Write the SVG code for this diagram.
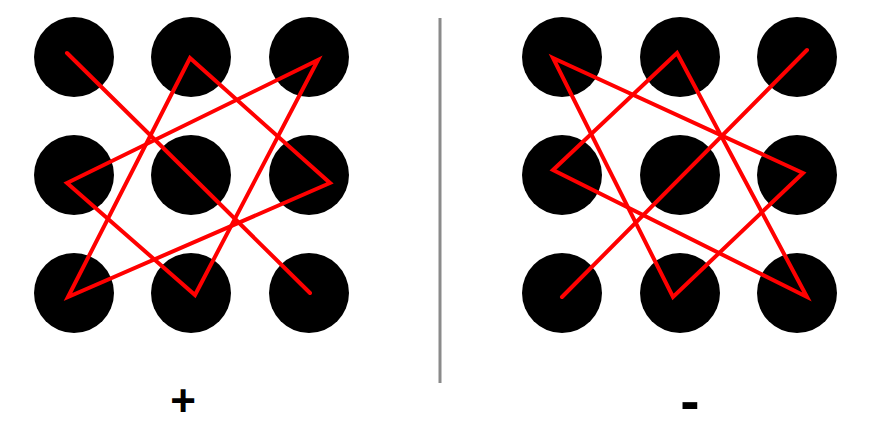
<svg xmlns="http://www.w3.org/2000/svg" width="891" height="439" viewBox="0 0 891 439">
<style>
.dot{fill:#000}
.red{fill:none;stroke:#f00;stroke-width:4;stroke-linejoin:miter;stroke-linecap:round}
.sign{font-family:"Liberation Sans",Arial,sans-serif;font-weight:bold;fill:#000;text-anchor:middle}
</style>
<rect width="891" height="439" fill="#fff"/>
<g id="left-grid">
<circle class="dot" cx="74" cy="57" r="40"/>
<circle class="dot" cx="191" cy="57" r="40"/>
<circle class="dot" cx="309" cy="57" r="40"/>
<circle class="dot" cx="74" cy="175" r="40"/>
<circle class="dot" cx="191" cy="175" r="40"/>
<circle class="dot" cx="309" cy="175" r="40"/>
<circle class="dot" cx="74" cy="293" r="40"/>
<circle class="dot" cx="191" cy="293" r="40"/>
<circle class="dot" cx="309" cy="293" r="40"/>
</g>
<g id="right-grid">
<circle class="dot" cx="562" cy="57" r="40"/>
<circle class="dot" cx="680" cy="57" r="40"/>
<circle class="dot" cx="797" cy="57" r="40"/>
<circle class="dot" cx="562" cy="175" r="40"/>
<circle class="dot" cx="680" cy="175" r="40"/>
<circle class="dot" cx="797" cy="175" r="40"/>
<circle class="dot" cx="562" cy="293" r="40"/>
<circle class="dot" cx="680" cy="293" r="40"/>
<circle class="dot" cx="797" cy="293" r="40"/>
</g>
<g id="connectors">
<line class="red" x1="67" y1="53" x2="310" y2="293"/>
<polygon class="red" points="68,297 190,58 330,183"/>
<polygon class="red" points="67,183 318,60 195,295"/>
<line class="red" x1="562" y1="297" x2="807" y2="50"/>
<polygon class="red" points="553,58 803,173 673,297"/>
<polygon class="red" points="553,170 677,53 807,297"/>
</g>
<g id="divider">
<line x1="440" y1="18" x2="440" y2="383" stroke="#8a8a8a" stroke-width="3"/>
</g>
<g id="labels">
<text class="sign" x="183" y="416" font-size="44">+</text>
<text class="sign" x="690" y="421" font-size="58">-</text>
</g>
</svg>
